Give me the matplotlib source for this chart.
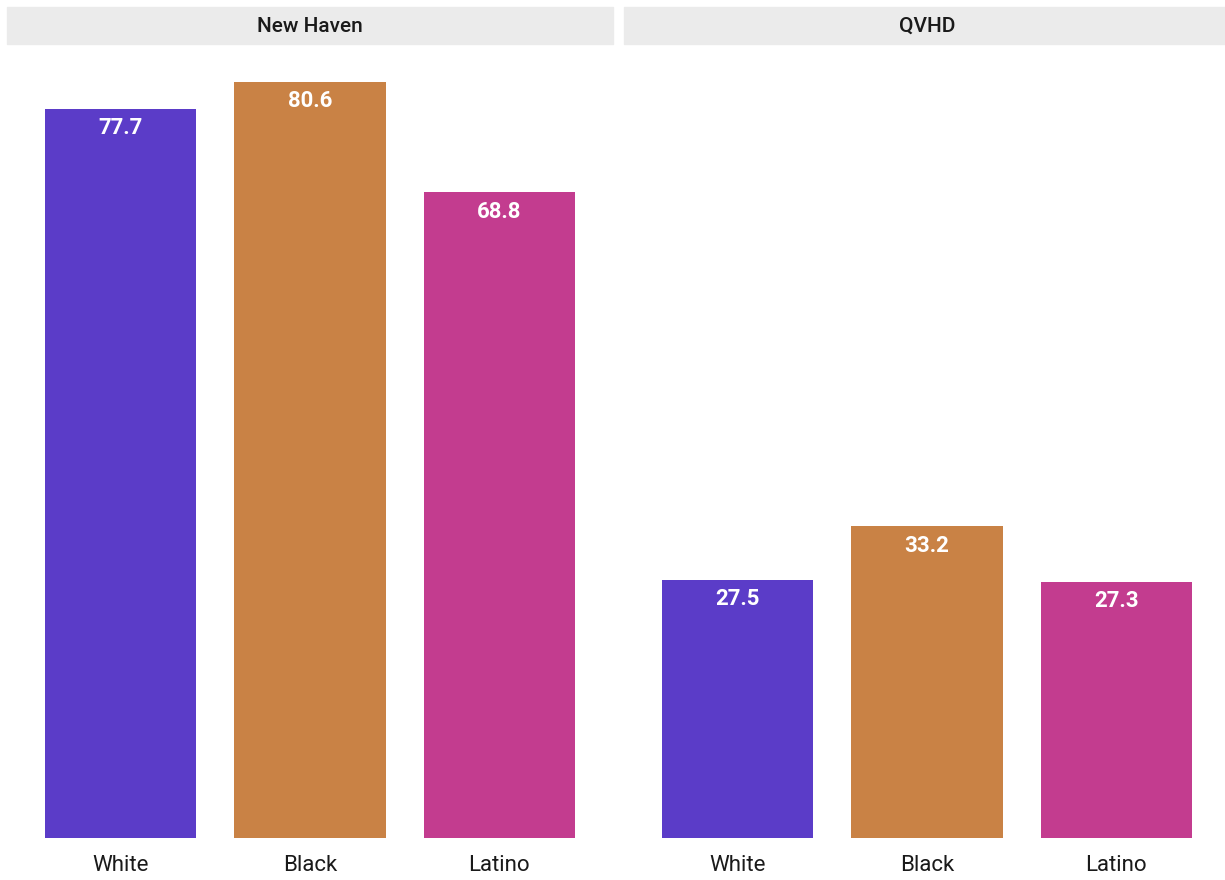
import matplotlib
matplotlib.use('Agg')
import matplotlib.pyplot as plt
from matplotlib.patches import Rectangle

plt.rcParams['font.family'] = ['Roboto', 'DejaVu Sans']

panels = ['New Haven', 'QVHD']
groups = ['White', 'Black', 'Latino']
values = {
    'New Haven': [77.7, 80.6, 68.8],
    'QVHD': [27.5, 33.2, 27.3],
}
colors = ['#5B3CC8', '#C98245', '#C33C8F']

W, H = 1225, 880
fig = plt.figure(figsize=(W / 100, H / 100), dpi=100)

# panel boxes in pixels: left edge, width
panel_x = [7, 624]
panel_w = 606
top, bottom = 46, 838

for i, name in enumerate(panels):
    x0 = panel_x[i]
    ax = fig.add_axes([x0 / W, 1 - bottom / H, panel_w / W, (bottom - top) / H])
    ax.set_xlim(0.4, 3.6)
    ax.set_ylim(0, 84.4)
    pos = range(1, len(groups) + 1)
    ax.bar(pos, values[name], width=0.8, color=colors)
    for p, v in zip(pos, values[name]):
        ax.annotate(f'{v:.1f}', (p, v), xytext=(0, -6), textcoords='offset points',
                    ha='center', va='top', color='white', fontsize=16, fontweight='bold')
    ax.set_xticks(list(pos))
    ax.set_xticklabels(groups, fontsize=16, color='#1a1a1a')
    ax.tick_params(axis='x', length=0, pad=12)
    ax.set_yticks([])
    for s in ax.spines.values():
        s.set_visible(False)

    # strip header
    fig.patches.append(Rectangle((x0 / W, 1 - 44 / H), panel_w / W, 37 / H,
                                 transform=fig.transFigure, color='#EBEBEB', zorder=0))
    fig.text((x0 + panel_w / 2) / W, 1 - 26 / H, name, ha='center', va='center',
             fontsize=15, fontweight='medium', color='#1a1a1a')

fig.savefig('out.png', dpi=100, facecolor='white')
